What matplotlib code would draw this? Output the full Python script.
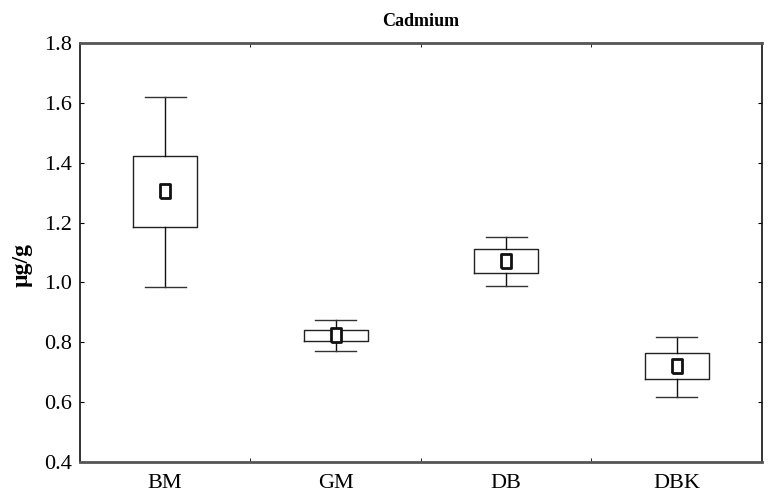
import matplotlib.pyplot as plt
from matplotlib.ticker import FixedLocator

plt.rcParams["font.family"] = ["Liberation Serif", "DejaVu Serif"]

# values (ug/g)
groups = ["BM", "GM", "DB", "DBK"]
whisker_low = [0.986, 0.770, 0.989, 0.618]
q1 = [1.186, 0.805, 1.030, 0.677]
means = [1.306, 0.823, 1.070, 0.720]
q3 = [1.424, 0.841, 1.112, 0.764]
whisker_high = [1.621, 0.874, 1.152, 0.819]

stats = []
for i, g in enumerate(groups):
    stats.append(
        {
            "label": g,
            "whislo": whisker_low[i],
            "q1": q1[i],
            "med": means[i],
            "mean": means[i],
            "q3": q3[i],
            "whishi": whisker_high[i],
        }
    )

fig = plt.figure(figsize=(7.68, 4.98), dpi=100)
ax = fig.add_axes([0.104, 0.0723, 0.888, 0.8414])

rect = [(-0.33, -0.5), (0.33, -0.5), (0.33, 0.5), (-0.33, 0.5), (-0.33, -0.5)]
pos = list(range(1, len(groups) + 1))
ax.bxp(
    stats,
    positions=pos,
    widths=0.376,
    showmeans=True,
    showfliers=False,
    boxprops=dict(color="#222222", linewidth=1.0),
    whiskerprops=dict(color="#111111", linewidth=1.0),
    capprops=dict(color="#333333", linewidth=1.0),
    capwidths=0.24,
    medianprops=dict(linewidth=0),
    meanprops=dict(
        marker=rect,
        markersize=10,
        markerfacecolor="white",
        markeredgecolor="#111111",
        markeredgewidth=2.0,
    ),
)

ax.set_xlim(0.5, 4.5)
ax.set_ylim(0.4, 1.8)
ax.set_yticks([0.4, 0.6, 0.8, 1.0, 1.2, 1.4, 1.6, 1.8])
ax.set_yticklabels(["0.4", "0.6", "0.8", "1.0", "1.2", "1.4", "1.6", "1.8"])

# category labels without tick marks, small marks at the group boundaries
ax.set_xticks(pos)
ax.set_xticklabels(groups)
ax.tick_params(axis="x", which="major", length=0, pad=9, labelsize=16)
ax.xaxis.set_minor_locator(FixedLocator([1.5, 2.5, 3.5]))
ax.tick_params(axis="x", which="minor", direction="in", length=3, top=True, bottom=True)
ax.tick_params(axis="y", direction="in", length=3, right=True, labelsize=16, pad=6)

for side in ["left", "right"]:
    ax.spines[side].set_color("#111111")
    ax.spines[side].set_linewidth(1.2)
for side in ["top", "bottom"]:
    ax.spines[side].set_color("#555555")
    ax.spines[side].set_linewidth(2.0)

ax.set_title("Cadmium", fontsize=13, fontweight="bold", pad=12)
ax.set_ylabel("µg/g", fontsize=17, fontweight="bold", labelpad=10)
ax.yaxis.set_label_coords(-0.07, 0.47)

fig.savefig("out.png", dpi=100)
